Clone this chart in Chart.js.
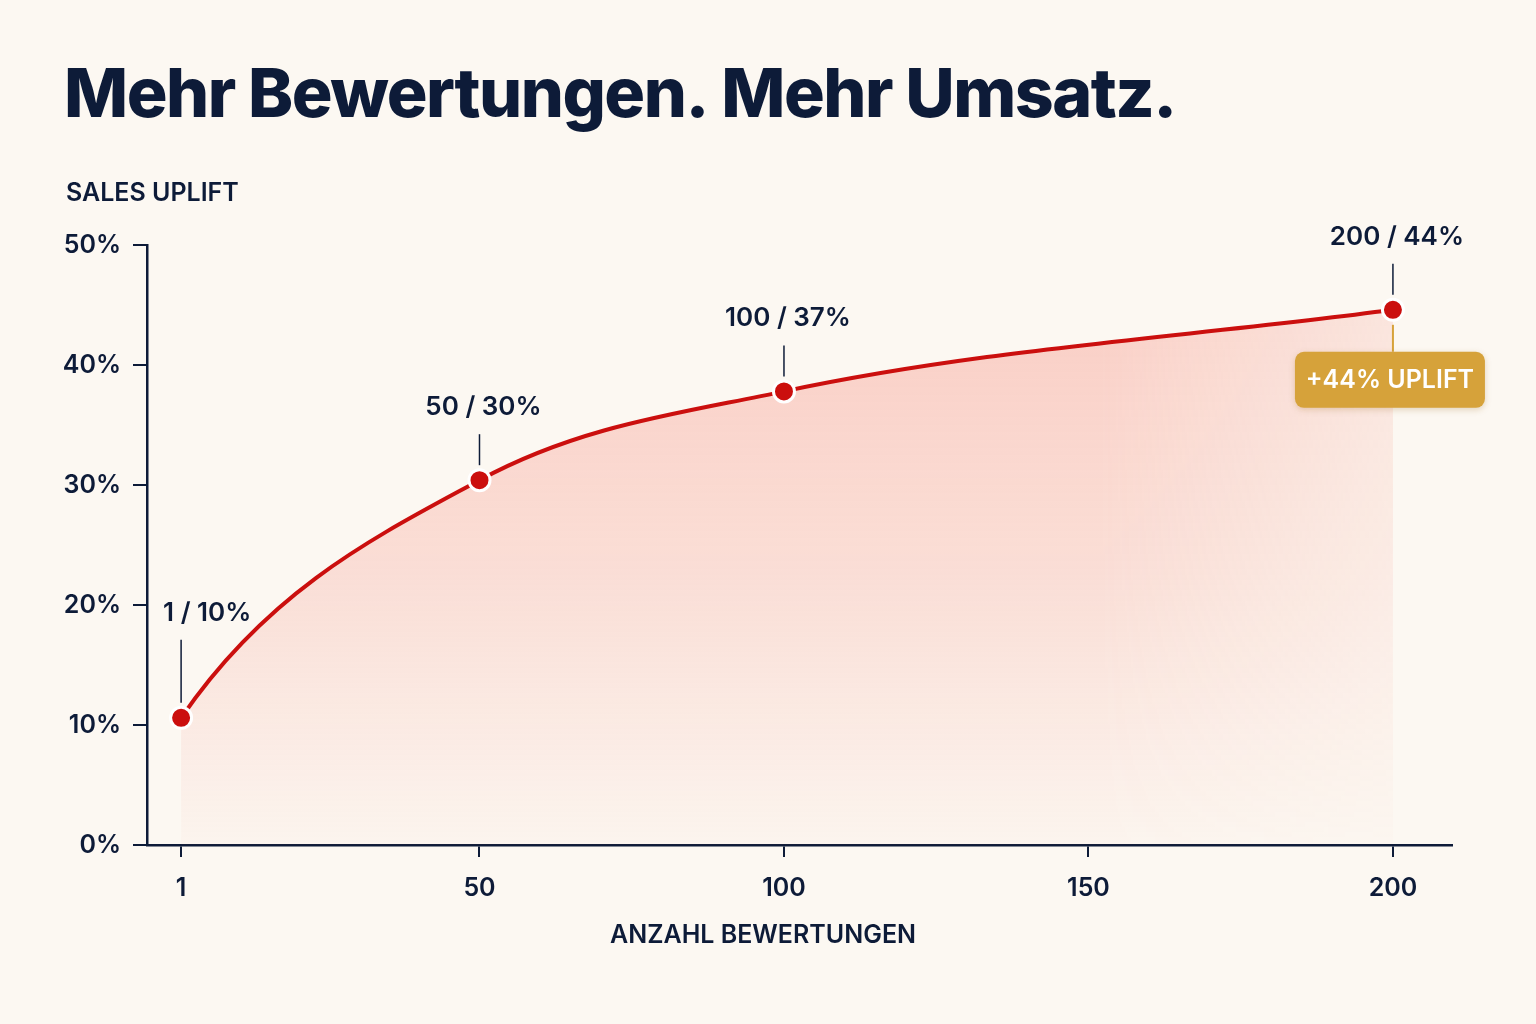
<!DOCTYPE html>
<html lang="de">
<head>
<meta charset="utf-8">
<title>Mehr Bewertungen. Mehr Umsatz.</title>
<script src="https://cdn.jsdelivr.net/npm/chart.js@4.4.1/dist/chart.umd.min.js"></script>
<style>
  html, body { margin: 0; padding: 0; background: #fcf8f2; }
  #wrap { width: 1536px; height: 1024px; }
</style>
</head>
<body>
<div id="wrap"><canvas id="upliftChart" width="1536" height="1024"></canvas></div>
<script>
// data
var reviews = [1, 50, 100, 200];
var uplift = [10.6, 30.4, 37.8, 44.6];
var pointLabels = ['1 / 10%', '50 / 30%', '100 / 37%', '200 / 44%'];
var xTicks = [1, 50, 100, 150, 200];
var yTicks = [0, 10, 20, 30, 40, 50];
var badgeText = '+44% UPLIFT';

var NAVY = '#0d1b38';
var RED = '#cb0f0e';
var GOLD = '#d6a23a';
var FONT = 'Inter, "Open Sans", sans-serif';

// soft pink fill that fades downwards and towards the right edge
function fillPattern(ctx) {
    var off = document.createElement('canvas');
    off.width = 1536;
    off.height = 1024;
    var o = off.getContext('2d');
    var v = o.createLinearGradient(0, 300, 0, 845);
    v.addColorStop(0, 'rgba(246, 140, 126, 0.38)');
    v.addColorStop(0.5, 'rgba(246, 140, 126, 0.24)');
    v.addColorStop(1, 'rgba(246, 140, 126, 0.03)');
    o.fillStyle = v;
    o.fillRect(0, 0, 1536, 1024);
    o.globalCompositeOperation = 'destination-in';
    var h = o.createLinearGradient(1100, 0, 1400, 0);
    h.addColorStop(0, 'rgba(0,0,0,1)');
    h.addColorStop(1, 'rgba(0,0,0,0.45)');
    o.fillStyle = h;
    o.fillRect(0, 0, 1536, 1024);
    return ctx.createPattern(off, 'no-repeat');
}

// make the curve leave the first point more steeply (log-like rise)
var steepStart = {
    id: 'steepStart',
    afterDatasetsUpdate: function(chart) {
        var meta = chart.getDatasetMeta(0);
        var pts = meta.data;
        if (pts.length < 2) return;
        meta.dataset.updateControlPoints(chart.chartArea, 'x');
        var p0 = pts[0], p1 = pts[1];
        p0.cp2x = p0.x + (p1.x - p0.x) * 0.3;
        p0.cp2y = p0.y + (p1.y - p0.y) * 0.55;
    }
};

var overlay = {
    id: 'overlay',
    afterDraw: function(chart) {
        var ctx = chart.ctx;
        var meta = chart.getDatasetMeta(0);
        ctx.save();

        // headline + axis titles
        ctx.fillStyle = NAVY;
        ctx.textBaseline = 'alphabetic';
        ctx.textAlign = 'left';
        ctx.font = '800 68px ' + FONT;
        ctx.letterSpacing = '-1.5px';
        ctx.fillText('Mehr Bewertungen. Mehr Umsatz.', 64, 117);
        ctx.letterSpacing = '0px';
        ctx.font = '600 25px ' + FONT;
        ctx.fillText('SALES UPLIFT', 66, 201);
        ctx.textAlign = 'center';
        ctx.fillText('ANZAHL BEWERTUNGEN', 763, 943);

        // value callouts above each point
        ctx.font = '600 26px ' + FONT;
        ctx.strokeStyle = NAVY;
        ctx.lineWidth = 1.5;
        meta.data.forEach(function(pt, i) {
            var x = pt.x, y = pt.y;
            ctx.beginPath();
            ctx.moveTo(x, y - 15);
            ctx.lineTo(x, y - (i === 0 ? 78 : 46));
            ctx.stroke();
            ctx.textBaseline = 'middle';
            if (i === 0) {
                ctx.textAlign = 'left';
                ctx.fillText(pointLabels[i], x - 18, y - 105);
            } else {
                ctx.textAlign = 'center';
                ctx.fillText(pointLabels[i], x + 4, y - 73);
            }
        });

        // badge under the last point
        var last = meta.data[meta.data.length - 1];
        var bw = 190, bh = 56, bx = last.x - 98, by = last.y + 42;
        ctx.strokeStyle = GOLD;
        ctx.lineWidth = 2;
        ctx.beginPath();
        ctx.moveTo(last.x, last.y + 15);
        ctx.lineTo(last.x, by);
        ctx.stroke();
        ctx.shadowColor = 'rgba(150, 100, 20, 0.25)';
        ctx.shadowBlur = 6;
        ctx.shadowOffsetY = 2;
        ctx.fillStyle = GOLD;
        ctx.beginPath();
        ctx.roundRect(bx, by, bw, bh, 9);
        ctx.fill();
        ctx.shadowColor = 'transparent';
        ctx.fillStyle = '#ffffff';
        ctx.font = '600 25px ' + FONT;
        ctx.textAlign = 'center';
        ctx.textBaseline = 'middle';
        ctx.fillText(badgeText, bx + bw / 2, by + bh / 2 + 1);

        ctx.restore();
    }
};

var ctx = document.getElementById('upliftChart').getContext('2d');

var upliftChart = new Chart(ctx, {
    type: 'line',
    data: {
        datasets: [{
            data: reviews.map(function(r, i) { return { x: r, y: uplift[i] }; }),
            borderColor: RED,
            borderWidth: 4,
            cubicInterpolationMode: 'monotone',
            fill: 'origin',
            backgroundColor: fillPattern(ctx),
            pointRadius: 10.5,
            pointHoverRadius: 10.5,
            pointBackgroundColor: RED,
            pointBorderColor: '#ffffff',
            pointBorderWidth: 3,
            clip: false
        }]
    },
    options: {
        responsive: false,
        animation: false,
        layout: { padding: { left: 0, top: 245, right: 84, bottom: 0 } },
        plugins: {
            legend: { display: false },
            tooltip: { enabled: false }
        },
        scales: {
            x: {
                type: 'linear',
                min: -4.6,
                max: 209.7,
                afterBuildTicks: function(scale) {
                    scale.ticks = xTicks.map(function(v) { return { value: v }; });
                },
                afterFit: function(scale) { scale.height = 179; },
                grid: { drawOnChartArea: false, drawTicks: true, tickLength: 12, color: NAVY, lineWidth: 2 },
                border: { display: true, color: NAVY, width: 2.5 },
                ticks: {
                    color: NAVY,
                    padding: 16,
                    font: { family: FONT, size: 25, weight: '600' }
                }
            },
            y: {
                min: 0,
                max: 50,
                afterBuildTicks: function(scale) {
                    scale.ticks = yTicks.map(function(v) { return { value: v }; });
                },
                afterFit: function(scale) { scale.width = 147; },
                grid: { drawOnChartArea: false, drawTicks: true, tickLength: 14, color: NAVY, lineWidth: 2 },
                border: { display: true, color: NAVY, width: 2.5 },
                ticks: {
                    color: NAVY,
                    padding: 12,
                    font: { family: FONT, size: 25, weight: '600' },
                    callback: function(v) { return v + '%'; }
                }
            }
        }
    },
    plugins: [steepStart, overlay]
});
</script>
</body>
</html>
